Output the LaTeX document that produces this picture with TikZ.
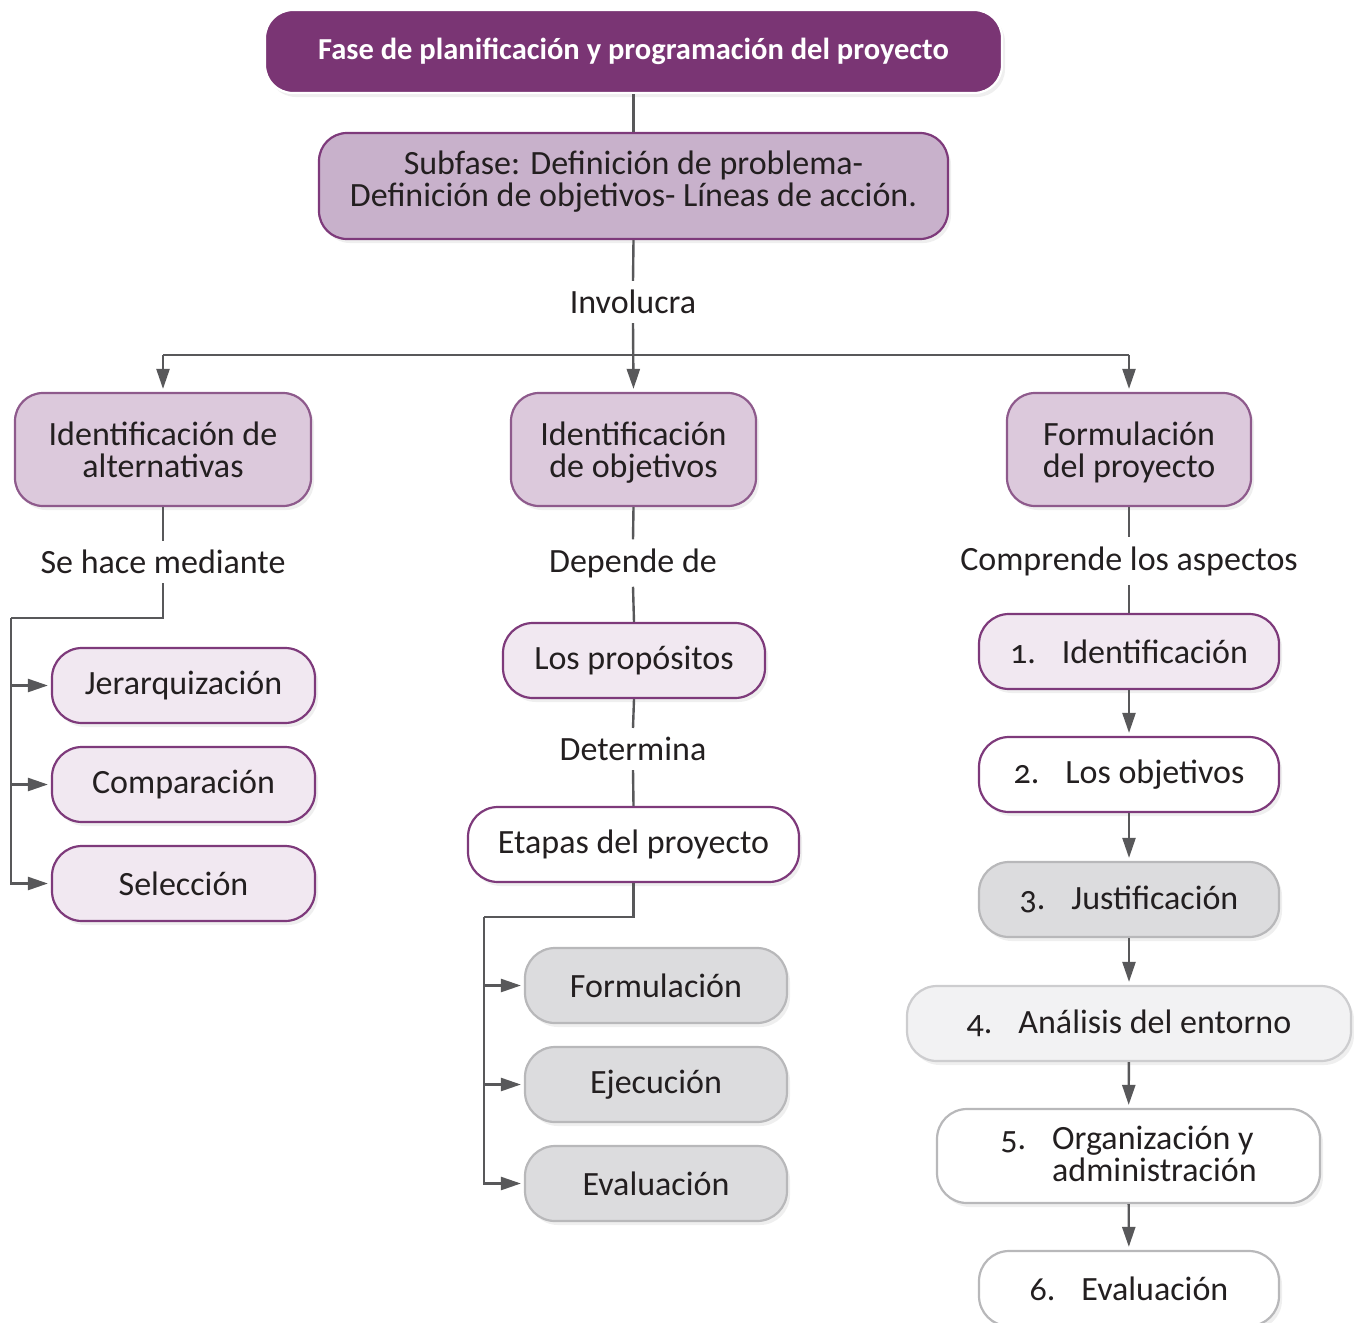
\documentclass[tikz,border=0pt]{standalone}
\usepackage{fontspec}
\setmainfont{Carlito}
\usetikzlibrary{arrows.meta,shadows,calc}
\definecolor{darkpurple}{HTML}{7A3574}
\definecolor{midpurple}{HTML}{C8B1CB}
\definecolor{rowpurple}{HTML}{DCC9DC}
\definecolor{lightpurple}{HTML}{F1E8F1}
\definecolor{bordpurple}{HTML}{7E3A7B}
\definecolor{rowborder}{HTML}{8E5A8C}
\definecolor{grayfill}{HTML}{DCDCDE}
\definecolor{grayborder}{HTML}{B8B8BA}
\definecolor{lightgrayfill}{HTML}{F2F2F3}
\definecolor{lightgrayborder}{HTML}{CDCDCF}
\definecolor{linecol}{HTML}{58585A}
\definecolor{textcol}{HTML}{231F20}
\newcommand{\numgap}{\hspace{26pt}}
\newcommand{\onum}[1]{{\addfontfeatures{Numbers=OldStyle}#1}}
\newcommand{\lowdepth}[1]{\rule[-#1]{0pt}{0pt}}
\begin{document}
\begin{tikzpicture}[x=1pt,y=-1pt,
  basebox/.style={line width=2.2pt, align=center, text=textcol, inner sep=0pt,
    font=\fontsize{34}{32}\selectfont,
    drop shadow={opacity=0.13, shadow xshift=3pt, shadow yshift=-4pt}},
  titlebox/.style={basebox, fill=darkpurple, draw=white, rounded corners=28pt, text=white,
    font=\fontsize{30.5}{30}\selectfont\bfseries},
  subbox/.style={basebox, fill=midpurple, draw=bordpurple, rounded corners=28pt},
  rowbox/.style={basebox, fill=rowpurple, draw=rowborder, rounded corners=28pt},
  lpbox/.style={basebox, fill=lightpurple, draw=bordpurple, rounded corners=30pt},
  whitebox/.style={basebox, fill=white, draw=bordpurple, rounded corners=30pt},
  graybox/.style={basebox, fill=grayfill, draw=grayborder, rounded corners=30pt},
  lgraybox/.style={basebox, fill=lightgrayfill, draw=lightgrayborder, rounded corners=30pt},
  wgraybox/.style={basebox, fill=white, draw=grayborder, rounded corners=30pt},
  lbl/.style={text=textcol, inner sep=9pt, font=\fontsize{34}{32}\selectfont},
  conn/.style={draw=linecol, line width=2.4pt},
  arr/.style={conn, -{Triangle[length=20pt,width=13pt]}, shorten >=3pt},
]
\useasboundingbox (0,0) rectangle (1354,1322);

% top
\node[titlebox, minimum width=737pt, minimum height=83pt] (title) at (633.5,51.5)
  {Fase de planificación y programación del proyecto};
\node[subbox, minimum width=629pt, minimum height=106pt] (sub) at (633.5,186)
  {Subfase: Definición de problema-\\Definición de objetivos- Líneas de acción.\lowdepth{15pt}};
\draw[conn] (title) -- (sub);

\node[lbl] (inv) at (633,302) {Involucra};
\draw[conn] (sub.south) -- (inv.north);

% row
\node[rowbox, minimum width=296pt, minimum height=113pt] (altern) at (163,449.5)
  {Identificación de\\alternativas};
\node[rowbox, minimum width=245pt, minimum height=113pt] (objet) at (633.5,449.5)
  {Identificación\\\smash{de objetivos}};
\node[rowbox, minimum width=244pt, minimum height=113pt] (formu) at (1129,449.5)
  {Formulación\\\smash{del proyecto}};
\coordinate (hbar) at (633,355);
\draw[conn] (altern.north |- hbar) -- (formu.north |- hbar);
\draw[arr] (inv.south) -- (objet.north);
\draw[arr] (altern.north |- hbar) -- (altern.north);
\draw[arr] (formu.north |- hbar) -- (formu.north);

% left column
\node[lbl] (hace) at (163,562) {Se hace mediante};
\draw[conn] (altern.south) -- (hace.north);
\node[lpbox, minimum width=263pt, minimum height=75pt] (jer) at (183.5,685.5) {Jerarquización};
\node[lpbox, minimum width=263pt, minimum height=75pt] (comp) at (183.5,784.5) {Comparación};
\node[lpbox, minimum width=263pt, minimum height=75pt] (sel) at (183.5,883.5) {Selección};
\coordinate (lc) at (11,618);
\draw[conn] (hace.south) |- (lc);
\draw[arr] (lc) |- (sel.west);
\draw[arr] (lc |- jer.west) -- (jer.west);
\draw[arr] (lc |- comp.west) -- (comp.west);

% middle column
\node[lbl] (dep) at (633,563) {Depende de};
\draw[conn] (objet.south) -- (dep.north);
\node[lpbox, minimum width=262pt, minimum height=75pt] (prop) at (634,660.5) {Los propósitos};
\draw[conn] (dep.south) -- (prop.north);
\node[lbl] (det) at (633,749) {Determina};
\draw[conn] (prop.south) -- (det.north);
\node[whitebox, minimum width=331pt, minimum height=75pt] (etap) at (633.5,844.5) {Etapas del proyecto};
\draw[conn] (det.south) -- (etap.north);
\node[graybox, minimum width=262pt, minimum height=75pt] (gform) at (656,985.5) {Formulación};
\node[graybox, minimum width=262pt, minimum height=75pt] (gejec) at (656,1084.5) {Ejecución};
\node[graybox, minimum width=262pt, minimum height=75pt] (geval) at (656,1183.5) {Evaluación};
\coordinate (mc) at (484,917);
\draw[conn] (etap.south) |- (mc);
\draw[arr] (mc) |- (geval.west);
\draw[arr] (mc |- gform.west) -- (gform.west);
\draw[arr] (mc |- gejec.west) -- (gejec.west);

% right column
\node[lbl] (comprende) at (1129,561) {Comprende los aspectos};
\draw[conn] (formu.south) -- (comprende.north);
\node[lpbox, minimum width=300pt, minimum height=75pt] (r1) at (1129,651.5)
  {\onum{1.}\numgap Identificación};
\draw[conn] (comprende.south) -- (r1.north);
\node[whitebox, minimum width=300pt, minimum height=75pt] (r2) at (1129,774.5)
  {\onum{2.}\numgap Los objetivos};
\node[graybox, minimum width=300pt, minimum height=75pt] (r3) at (1129,899.5)
  {\onum{3.}\numgap Justificación};
\node[lgraybox, minimum width=444pt, minimum height=75pt] (r4) at (1129,1023.5)
  {\onum{4.}\numgap Análisis del entorno};
\node[wgraybox, minimum width=383pt, minimum height=94pt, align=left] (r5) at (1128.5,1156)
  {\onum{5.}\numgap Organización y\\\phantom{\onum{5.}}\numgap administración};
\node[wgraybox, minimum width=300pt, minimum height=75pt] (r6) at (1129,1288.5)
  {\onum{6.}\numgap Evaluación};
\draw[arr] (r1) -- (r2);
\draw[arr] (r2) -- (r3);
\draw[arr] (r3) -- (r4);
\draw[arr] (r4) -- (r5);
\draw[arr] (r5) -- (r6);
\end{tikzpicture}
\end{document}
